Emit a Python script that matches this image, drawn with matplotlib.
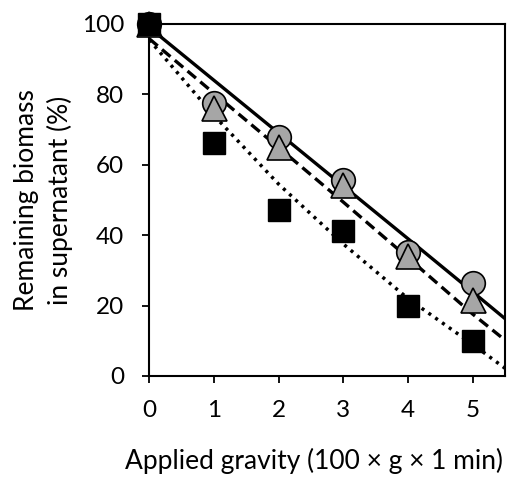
import matplotlib
matplotlib.use("Agg")
import matplotlib.pyplot as plt

# measured data
x_pts = [0, 1, 2, 3, 4, 5]
circles = [100, 77.6, 67.8, 55.8, 35.3, 26.3]
triangles = [100, 76.0, 65.0, 54.2, 34.0, 21.5]
squares = [100, 66.1, 47.2, 41.2, 19.9, 9.8]

# fitted curves
x_fit = [0, 1, 2, 3, 4, 5, 5.5]
fit_solid = [99.0, 84.0, 69.0, 54.0, 39.0, 23.9, 16.3]
fit_dashed = [95.8, 80.3, 64.9, 49.4, 33.6, 17.6, 10.2]
fit_dotted = [95.5, 74.0, 54.5, 37.5, 22.0, 9.0, 2.2]

xticks = [0, 1, 2, 3, 4, 5]
yticks = [0, 20, 40, 60, 80, 100]

plt.rcParams['font.family'] = ['Lato', 'DejaVu Sans']

fig = plt.figure(figsize=(5.12, 4.78), dpi=100)
ax = fig.add_axes([0.2916, 0.2134, 0.6947, 0.7364])

ax.plot(x_fit, fit_solid, color='black', lw=2.4, ls='-', zorder=2)
ax.plot(x_fit, fit_dashed, color='black', lw=2.4, ls=(0, (3.3, 1.7)), zorder=2)
ax.plot(x_fit, fit_dotted, color='black', lw=2.5, ls=(0, (0.9, 1.5)), zorder=2)

ax.plot(x_pts, circles, ls='none', marker='o', ms=17, mfc='#a6a6a6', mec='black', mew=1.2, zorder=3, clip_on=False)
ax.plot(x_pts, triangles, ls='none', marker='^', ms=18, mfc='#a6a6a6', mec='black', mew=1.2, zorder=4, clip_on=False)
ax.plot(x_pts, squares, ls='none', marker='s', ms=15.5, mfc='black', mec='black', mew=1.0, zorder=5, clip_on=False)

ax.set_xlim(0, 5.5)
ax.set_ylim(0, 100)
ax.set_xticks(xticks)
ax.set_yticks(yticks)
for s in ax.spines.values():
    s.set_linewidth(1.5)
ax.tick_params(direction='out', length=5, width=1.3, labelsize=17.5)
ax.tick_params(axis='y', pad=13)
ax.tick_params(axis='x', pad=12)

ax.set_xlabel('Applied gravity (100 × g × 1 min)', fontsize=19)
ax.xaxis.set_label_coords(0.463, -0.205)
ax.set_ylabel('Remaining biomass\nin supernatant (%)', fontsize=19, linespacing=1.35)
ax.yaxis.set_label_coords(-0.215, 0.5)

fig.savefig('out.png', dpi=100)
